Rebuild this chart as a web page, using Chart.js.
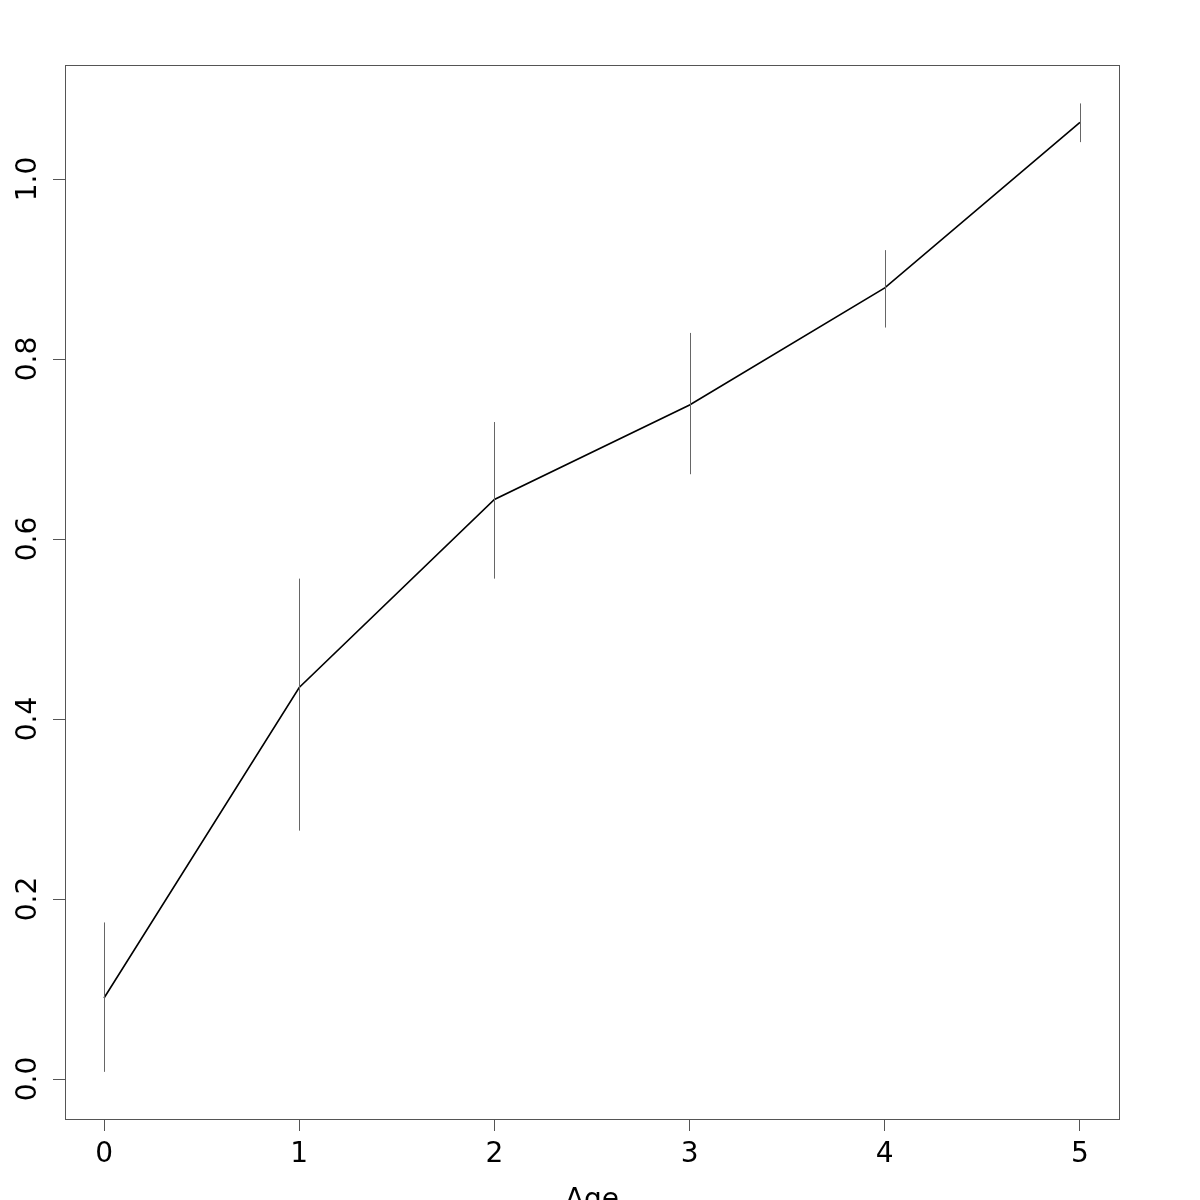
<!DOCTYPE html>
<html>
<head>
<meta charset="utf-8">
<script src="https://cdn.jsdelivr.net/npm/chart.js@4/dist/chart.umd.min.js"></script>
<style>
html, body { margin: 0; padding: 0; overflow: hidden; background: #fff; }
#wrap { width: 1200px; height: 1240px; }
</style>
</head>
<body>
<div id="wrap"><canvas id="ageChart" width="1200" height="1240"></canvas></div>
<script>
// values
const ages = [0, 1, 2, 3, 4, 5];
const meanValues = [0.090, 0.435, 0.644, 0.749, 0.879, 1.063];
const lowerValues = [0.008, 0.276, 0.556, 0.672, 0.835, 1.041];
const upperValues = [0.174, 0.556, 0.730, 0.829, 0.921, 1.084];
const xTicks = [0, 1, 2, 3, 4, 5];
const yTicks = [0.0, 0.2, 0.4, 0.6, 0.8, 1.0];

const fontFamily = '"DejaVu Sans", "Liberation Sans", sans-serif';

// box round the plot + vertical error bars
const rPlotPlugin = {
  id: 'rPlot',
  afterDatasetsDraw(chart) {
    const ctx = chart.ctx;
    const xScale = chart.scales.x;
    const yScale = chart.scales.y;
    ctx.save();
    ctx.strokeStyle = '#666';
    ctx.lineWidth = 1;
    ages.forEach((age, i) => {
      const x = Math.round(xScale.getPixelForValue(age)) + 0.5;
      ctx.beginPath();
      ctx.moveTo(x, yScale.getPixelForValue(lowerValues[i]));
      ctx.lineTo(x, yScale.getPixelForValue(upperValues[i]));
      ctx.stroke();
    });
    const area = chart.chartArea;
    ctx.strokeStyle = '#555';
    ctx.strokeRect(area.left + 0.5, area.top + 0.5, area.right - area.left, area.bottom - area.top);
    ctx.restore();
  }
};

const ageChart = new Chart(document.getElementById('ageChart').getContext('2d'), {
  type: 'line',
  data: {
    datasets: [{
      label: '',
      data: ages.map((a, i) => ({ x: a, y: meanValues[i] })),
      borderColor: '#000',
      borderWidth: 1.6,
      pointRadius: 0,
      fill: false,
      tension: 0
    }]
  },
  options: {
    responsive: false,
    animation: false,
    devicePixelRatio: 1,
    layout: {
      padding: { top: 65, right: 81, left: 0, bottom: 0 }
    },
    scales: {
      x: {
        type: 'linear',
        min: -0.2,
        max: 5.2,
        afterBuildTicks: (scale) => { scale.ticks = xTicks.map(v => ({ value: v })); },
        afterFit: (scale) => { scale.height = 121; },
        border: { display: false },
        grid: {
          drawOnChartArea: false,
          drawTicks: true,
          tickLength: 12,
          color: '#555'
        },
        ticks: {
          color: '#000',
          padding: 7,
          maxRotation: 0,
          font: { family: fontFamily, size: 28 },
          callback: (v) => String(v)
        },
        title: {
          display: true,
          text: 'Age',
          color: '#000',
          font: { family: fontFamily, size: 28 },
          padding: { top: 0, bottom: 22 }
        }
      },
      y: {
        type: 'linear',
        min: -0.0444,
        max: 1.1267,
        afterBuildTicks: (scale) => { scale.ticks = yTicks.map(v => ({ value: v })); },
        afterFit: (scale) => { scale.width = 65; },
        border: { display: false },
        grid: {
          drawOnChartArea: false,
          drawTicks: true,
          tickLength: 12,
          color: '#555'
        },
        ticks: {
          color: '#000',
          padding: 2,
          minRotation: 90,
          maxRotation: 90,
          crossAlign: 'center',
          font: { family: fontFamily, size: 28 },
          callback: (v) => v.toFixed(1)
        }
      }
    },
    plugins: {
      legend: { display: false },
      tooltip: { enabled: false }
    }
  },
  plugins: [rPlotPlugin]
});
</script>
</body>
</html>
